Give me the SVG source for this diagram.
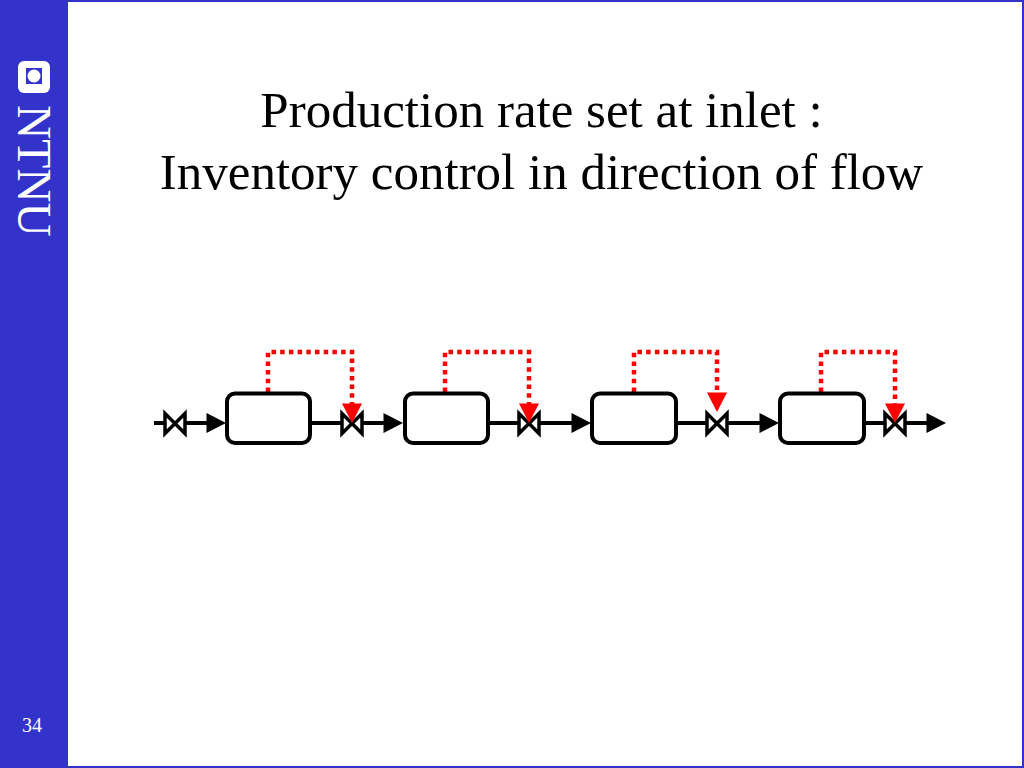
<svg xmlns="http://www.w3.org/2000/svg" width="1024" height="768" viewBox="0 0 1024 768">
<style>
.title{font-family:"Liberation Serif","Times New Roman",serif;font-size:51px;fill:#000;text-anchor:middle}
.box{fill:#fff;stroke:#000;stroke-width:4;}
.line{fill:none;stroke:#000;stroke-width:4}
.valve{fill:#fff;stroke:#000;stroke-width:3.5;stroke-linejoin:miter}
.ctl{fill:none;stroke:#f00;stroke-width:4.5;stroke-dasharray:4.5 4.2}
.head{fill:#000}
.redhead{fill:#f00}
</style>
<defs>
<path id="valve" class="valve" d="M-10 -10L10 10V-10L-10 10Z"/>
<path id="arrow" class="head" d="M-19.5 -10L0 0L-19.5 10Z"/>
<path id="redarrow" class="redhead" d="M-10 -19.5H10L0 0Z"/>
</defs>
<rect x="0" y="0" width="1024" height="768" fill="#fff"/>
<rect x="1" y="1" width="1022" height="766" fill="none" stroke="#3333cc" stroke-width="2"/>
<g id="sidebar">
<rect x="0" y="0" width="68" height="768" fill="#3333cc"/>
<rect x="18" y="61" width="32" height="32" rx="6" fill="#fff"/>
<rect x="26" y="68" width="16" height="16" fill="#3333cc"/>
<circle cx="34" cy="76" r="6.5" fill="#fff"/>
<text transform="translate(18 105) rotate(90)" font-family="'Liberation Serif','Times New Roman',serif" font-size="47.5" fill="#fff">NTNU</text>
<text x="32" y="732" text-anchor="middle" font-family="'Liberation Serif','Times New Roman',serif" font-size="20" fill="#fff">34</text>
</g>
<g id="title">
<text class="title" x="541.5" y="127">Production rate set at inlet :</text>
<text class="title" x="541.5" y="189">Inventory control in direction of flow</text>
</g>
<g id="connectors">
<path class="line" d="M154 423H208"/>
<path class="line" d="M310 423H386"/>
<path class="line" d="M488 423H574"/>
<path class="line" d="M676 423H762"/>
<path class="line" d="M864 423H928"/>
<use href="#arrow" x="226" y="423"/>
<use href="#arrow" x="403" y="423"/>
<use href="#arrow" x="591" y="423"/>
<use href="#arrow" x="779" y="423"/>
<use href="#arrow" x="946" y="423"/>
<path class="ctl" d="M268 392V352H352V405"/>
<path class="ctl" d="M445 392V352H529V405"/>
<path class="ctl" d="M634 392V352H717V395"/>
<path class="ctl" d="M821 392V352H895V405"/>
</g>
<g id="valve0"><use href="#valve" x="175" y="423.5"/></g>
<g id="valve1"><use href="#valve" x="352" y="423.5"/></g>
<g id="valve2"><use href="#valve" x="529" y="423.5"/></g>
<g id="valve3"><use href="#valve" x="717" y="423.5"/></g>
<g id="valve4"><use href="#valve" x="895" y="423.5"/></g>
<g id="redarrows">
<use href="#redarrow" x="352" y="423"/>
<use href="#redarrow" x="529" y="423"/>
<use href="#redarrow" x="717" y="412"/>
<use href="#redarrow" x="895" y="423"/>
</g>
<g id="tank1"><rect class="box" x="227" y="393.5" width="83" height="49.5" rx="8"/></g>
<g id="tank2"><rect class="box" x="405" y="393.5" width="83" height="49.5" rx="8"/></g>
<g id="tank3"><rect class="box" x="592" y="393.5" width="84" height="49.5" rx="8"/></g>
<g id="tank4"><rect class="box" x="780" y="393.5" width="84" height="49.5" rx="8"/></g>
</svg>
